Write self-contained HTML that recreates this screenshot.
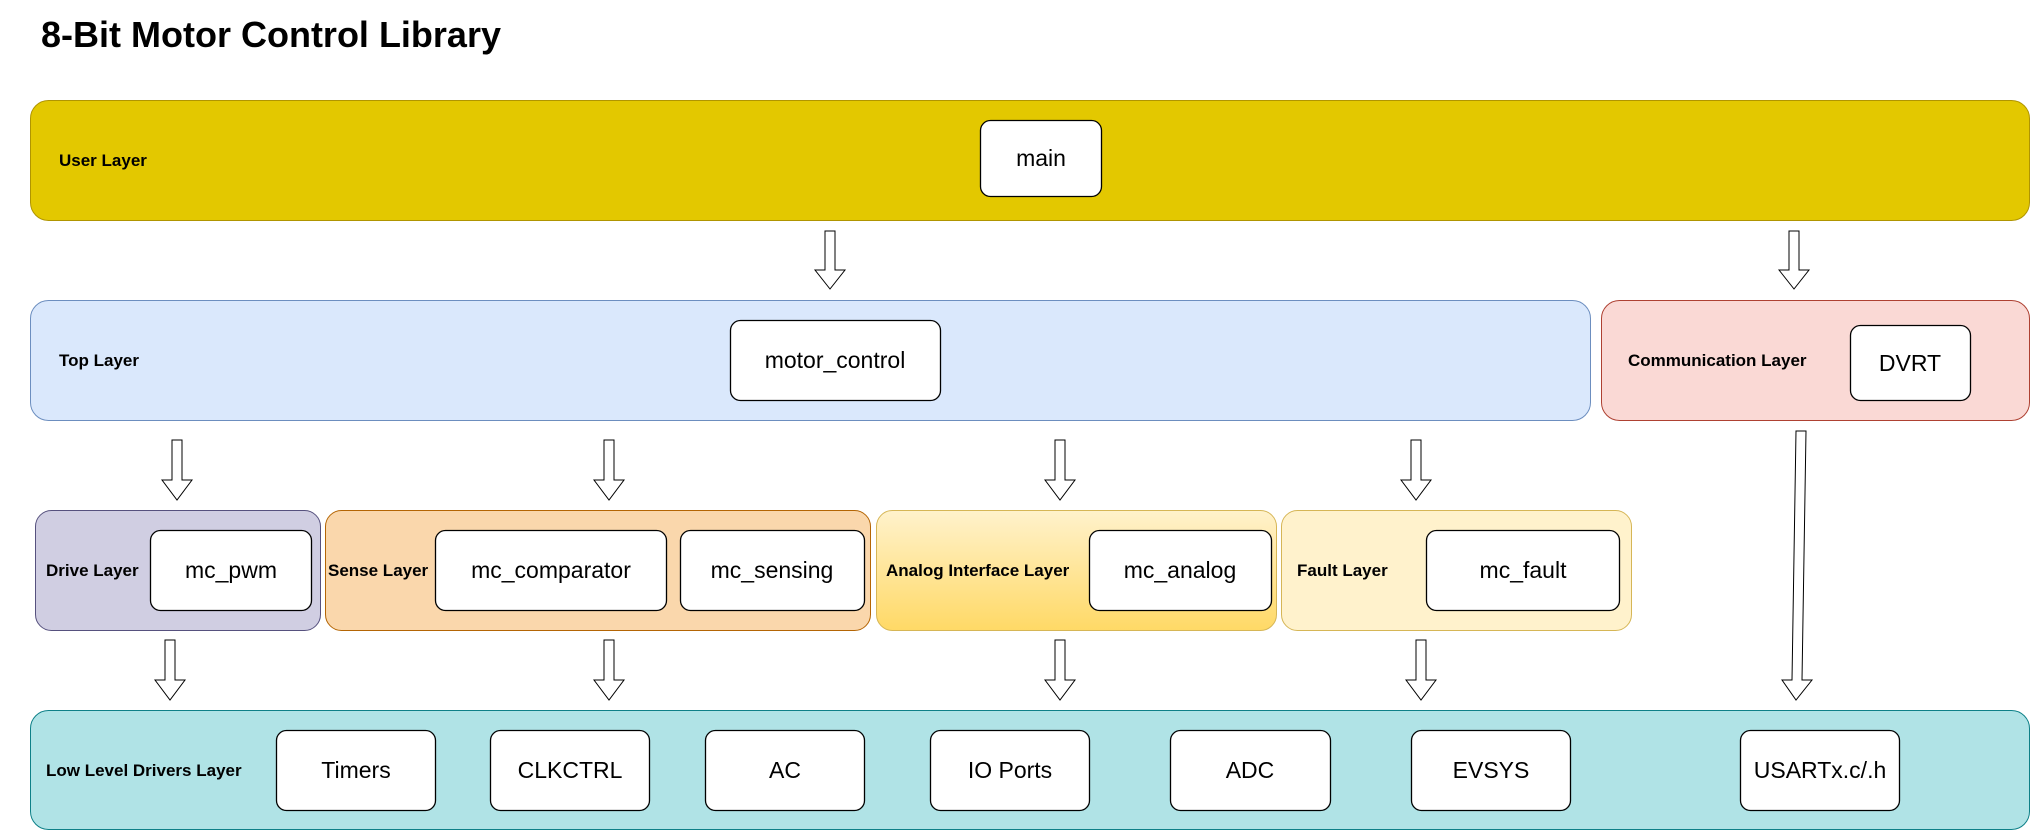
<!DOCTYPE html>
<html><head><meta charset="utf-8"><style>
body{margin:0;width:2031px;height:831px;background:#fff;overflow:hidden;font-family:"Liberation Sans",Arial,sans-serif}
svg{position:absolute;left:0;top:0}
</style></head><body>
<svg width="2031" height="831" viewBox="0 0 2031 831" xmlns="http://www.w3.org/2000/svg" font-family="Liberation Sans, Arial, sans-serif">
<defs>
<linearGradient id="ag" x1="0" y1="0" x2="0" y2="1"><stop offset="0" stop-color="#fff2cc"/><stop offset="1" stop-color="#ffd966"/></linearGradient>
</defs>
<text x="41" y="47" font-size="36" font-weight="bold" fill="#000">8-Bit Motor Control Library</text>
<!-- layers -->
<rect x="30.5" y="100.5" width="1999" height="120" rx="18" fill="#e3c800" stroke="#b09500"/>
<rect x="30.5" y="300.5" width="1560" height="120" rx="18" fill="#dae8fc" stroke="#6c8ebf"/>
<rect x="1601.5" y="300.5" width="428" height="120" rx="18" fill="#fad9d5" stroke="#ae4132"/>
<rect x="35.5" y="510.5" width="285" height="120" rx="16" fill="#d0cee2" stroke="#56517e"/>
<rect x="325.5" y="510.5" width="545" height="120" rx="16" fill="#fad7ac" stroke="#b46504"/>
<rect x="876.5" y="510.5" width="400" height="120" rx="16" fill="url(#ag)" stroke="#d6b656"/>
<rect x="1281.5" y="510.5" width="350" height="120" rx="16" fill="#fff2cc" stroke="#d6b656"/>
<rect x="30.5" y="710.5" width="1999" height="119" rx="18" fill="#b0e3e6" stroke="#0e8088"/>
<g font-size="17" font-weight="bold" fill="#000">
<text x="59" y="166">User Layer</text>
<text x="59" y="366">Top Layer</text>
<text x="1628" y="366">Communication Layer</text>
<text x="46" y="576">Drive Layer</text>
<text x="328" y="576">Sense Layer</text>
<text x="886" y="576">Analog Interface Layer</text>
<text x="1297" y="576">Fault Layer</text>
<text x="46" y="776">Low Level Drivers Layer</text>
</g>
<!-- boxes -->
<g fill="#fff" stroke="#000" stroke-width="1.3">
<rect x="980.5" y="120.5" width="121" height="76" rx="10"/>
<rect x="730.5" y="320.5" width="210" height="80" rx="10"/>
<rect x="1850.5" y="325.5" width="120" height="75" rx="10"/>
<rect x="150.5" y="530.5" width="161" height="80" rx="10"/>
<rect x="435.5" y="530.5" width="231" height="80" rx="10"/>
<rect x="680.5" y="530.5" width="184" height="80" rx="10"/>
<rect x="1089.5" y="530.5" width="182" height="80" rx="10"/>
<rect x="1426.5" y="530.5" width="193" height="80" rx="10"/>
<rect x="276.5" y="730.5" width="159" height="80" rx="10"/>
<rect x="490.5" y="730.5" width="159" height="80" rx="10"/>
<rect x="705.5" y="730.5" width="159" height="80" rx="10"/>
<rect x="930.5" y="730.5" width="159" height="80" rx="10"/>
<rect x="1170.5" y="730.5" width="160" height="80" rx="10"/>
<rect x="1411.5" y="730.5" width="159" height="80" rx="10"/>
<rect x="1740.5" y="730.5" width="159" height="80" rx="10"/>
</g>
<g font-size="23" fill="#000" text-anchor="middle">
<text x="1041" y="166">main</text>
<text x="835" y="368">motor_control</text>
<text x="1910" y="371">DVRT</text>
<text x="231" y="578">mc_pwm</text>
<text x="551" y="578">mc_comparator</text>
<text x="772" y="578">mc_sensing</text>
<text x="1180" y="578">mc_analog</text>
<text x="1523" y="578">mc_fault</text>
<text x="356" y="778">Timers</text>
<text x="570" y="778">CLKCTRL</text>
<text x="785" y="778">AC</text>
<text x="1010" y="778">IO Ports</text>
<text x="1250" y="778">ADC</text>
<text x="1491" y="778">EVSYS</text>
<text x="1820" y="778">USARTx.c/.h</text>
</g>
<!-- arrows -->
<g fill="#fff" stroke="#000" stroke-width="1">
<path d="M825,231 h10 v39 h10 l-15,19 l-15,-19 h10 z"/>
<path d="M1789,231 h10 v39 h10 l-15,19 l-15,-19 h10 z"/>
<path d="M172,440 h10 v40 h10 l-15,20 l-15,-20 h10 z"/>
<path d="M604,440 h10 v40 h10 l-15,20 l-15,-20 h10 z"/>
<path d="M1055,440 h10 v40 h10 l-15,20 l-15,-20 h10 z"/>
<path d="M1411,440 h10 v40 h10 l-15,20 l-15,-20 h10 z"/>
<path d="M165,640 h10 v40 h10 l-15,20 l-15,-20 h10 z"/>
<path d="M604,640 h10 v40 h10 l-15,20 l-15,-20 h10 z"/>
<path d="M1055,640 h10 v40 h10 l-15,20 l-15,-20 h10 z"/>
<path d="M1416,640 h10 v40 h10 l-15,20 l-15,-20 h10 z"/>
<path d="M1796,431 h10 l-4,249 h10 l-16,20 l-14,-20 h10 z"/>
</g>
</svg>
</body></html>
